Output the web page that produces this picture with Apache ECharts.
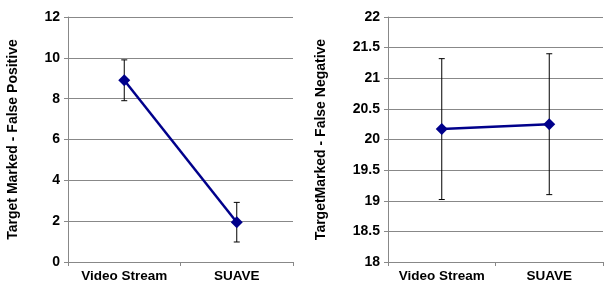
<!DOCTYPE html>
<html><head><meta charset="utf-8">
<script src="https://cdn.jsdelivr.net/npm/echarts@6/dist/echarts.min.js"></script>
<style>html,body{margin:0;padding:0;background:#fff}#c{width:604px;height:287px}</style>
</head><body><div id="c"></div>
<script>
const categories = ['Video Stream', 'SUAVE'];
const fpMeans = [8.9, 1.95];
const fpErr = [1.0, 0.97];
const fnMeans = [20.17, 20.25];
const fnErr = [1.15, 1.15];
const fpTitle = 'Target Marked - False Positive';
const fnTitle = 'TargetMarked - False Negative';

const FONT = '"Liberation Sans", Arial, sans-serif';
const navy = '#00008B';

function errData(means, errs) {
  return means.map((m, i) => [i, m - errs[i], m + errs[i]]);
}
function renderErr(params, api) {
  const x = api.value(0);
  const lo = api.coord([x, api.value(1)]);
  const hi = api.coord([x, api.value(2)]);
  const cap = 3;
  const st = { stroke: '#000', lineWidth: 1 };
  return { type: 'group', children: [
    { type: 'line', shape: { x1: lo[0], y1: lo[1], x2: hi[0], y2: hi[1] }, style: st },
    { type: 'line', shape: { x1: lo[0] - cap, y1: lo[1], x2: lo[0] + cap, y2: lo[1] }, style: st },
    { type: 'line', shape: { x1: hi[0] - cap, y1: hi[1], x2: hi[0] + cap, y2: hi[1] }, style: st }
  ]};
}
function xAxis(gi) {
  return {
    type: 'category', gridIndex: gi, data: categories, boundaryGap: true,
    axisLine: { lineStyle: { color: '#888', width: 1 } },
    axisTick: { show: true, length: 4, lineStyle: { color: '#888' } },
    axisLabel: { interval: 0, color: '#000', fontFamily: FONT, fontWeight: 'bold', fontSize: 13.5, margin: 7 },
    splitLine: { show: false }
  };
}
function yAxis(gi, min, max, interval, name, gap) {
  return {
    type: 'value', gridIndex: gi, min, max, interval,
    name, nameLocation: 'middle', nameGap: gap, nameRotate: 90,
    nameTextStyle: { color: '#000', fontFamily: FONT, fontWeight: 'bold', fontSize: 14 },
    axisLine: { show: true, lineStyle: { color: '#888', width: 1 } },
    axisTick: { show: true, length: 4, lineStyle: { color: '#888' } },
    axisLabel: { color: '#000', fontFamily: FONT, fontWeight: 'bold', fontSize: 14, margin: 8 },
    splitLine: { show: true, lineStyle: { color: '#888', width: 1 } }
  };
}
const chart = echarts.init(document.getElementById('c'), null, { renderer: 'canvas' });
chart.setOption({
  animation: false,
  grid: [
    { left: 68, right: 311, top: 17, bottom: 25 },
    { left: 388, right: 1, top: 17, bottom: 25 }
  ],
  xAxis: [xAxis(0), xAxis(1)],
  yAxis: [
    yAxis(0, 0, 12, 2, fpTitle, 48),
    yAxis(1, 18, 22, 0.5, fnTitle, 60)
  ],
  series: [
    { type: 'custom', xAxisIndex: 0, yAxisIndex: 0, data: errData(fpMeans, fpErr), renderItem: renderErr, z: 1 },
    { type: 'custom', xAxisIndex: 1, yAxisIndex: 1, data: errData(fnMeans, fnErr), renderItem: renderErr, z: 1 },
    { type: 'line', xAxisIndex: 0, yAxisIndex: 0, data: fpMeans, symbol: 'diamond', symbolSize: 12,
      lineStyle: { color: navy, width: 2.5 }, itemStyle: { color: navy }, z: 3 },
    { type: 'line', xAxisIndex: 1, yAxisIndex: 1, data: fnMeans, symbol: 'diamond', symbolSize: 12,
      lineStyle: { color: navy, width: 2.5 }, itemStyle: { color: navy }, z: 3 }
  ]
});
</script></body></html>
